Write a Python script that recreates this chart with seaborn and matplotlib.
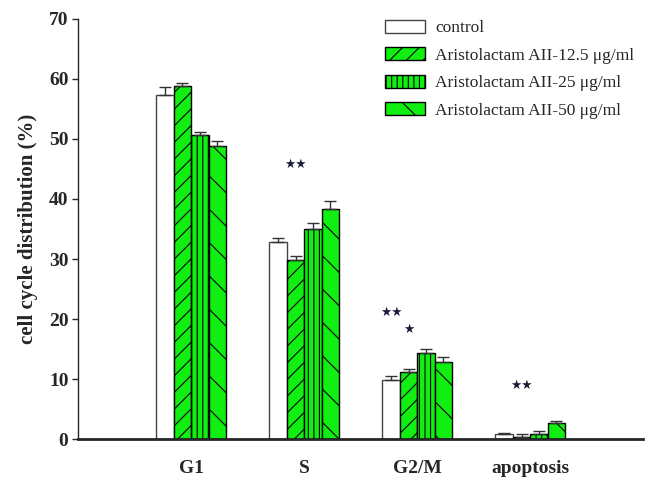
import numpy as np
import pandas as pd
import matplotlib
matplotlib.use("Agg")
import matplotlib.pyplot as plt
import seaborn as sns

# values
phases = ["G1", "S", "G2/M", "apoptosis"]
groups = ["control", "Aristolactam AII-12.5 \u03bcg/ml",
          "Aristolactam AII-25 \u03bcg/ml", "Aristolactam AII-50 \u03bcg/ml"]
control = [57.3, 32.8, 9.9, 0.9]
dose_12_5 = [58.9, 29.9, 11.2, 0.4]
dose_25 = [50.7, 35.05, 14.4, 0.9]
dose_50 = [48.8, 38.3, 12.9, 2.6]
err_control = [1.3, 0.65, 0.65, 0.1]
err_12_5 = [0.5, 0.6, 0.47, 0.4]
err_25 = [0.5, 0.9, 0.6, 0.4]
err_50 = [0.9, 1.4, 0.7, 0.4]

# significance marks: (phase, group index, label, height)
stars = [("S", 1, "**", 45.8), ("G2/M", 0, "**", 21.1),
         ("G2/M", 1, "*", 18.3), ("apoptosis", 1, "**", 8.9)]

means = [control, dose_12_5, dose_25, dose_50]
errors = [err_control, err_12_5, err_25, err_50]

df = pd.DataFrame({
    "phase": np.repeat([phases], 4, axis=0).ravel(),
    "group": np.repeat(groups, len(phases)),
    "value": np.concatenate(means),
})

sns.set_style("ticks")
plt.rcParams["font.family"] = ["Liberation Serif", "DejaVu Sans"]
plt.rcParams["hatch.linewidth"] = 0.8

fig = plt.figure(figsize=(6.57, 4.93), dpi=100)
ax = fig.add_axes([0.119, 0.1095, 0.86, 0.852])

green = "#11ee11"
sns.barplot(data=df, x="phase", y="value", hue="group", order=phases,
            hue_order=groups, palette=["white", green, green, green],
            saturation=1, width=0.615, errorbar=None, ax=ax,
            edgecolor="black", linewidth=1)

hatches = [None, "//", "|||", "\\"]
for container, hatch, err in zip(ax.containers, hatches, errors):
    xs = []
    for bar in container:
        if hatch:
            bar.set_hatch(hatch)
        else:
            bar.set_edgecolor("#444444")
        xs.append(bar.get_x() + bar.get_width() / 2)
    vals = [b.get_height() for b in container]
    ax.errorbar(xs, vals, yerr=[np.zeros(len(err)), err], fmt="none",
                ecolor="#333333", elinewidth=1, capsize=4, capthick=1, zorder=1)

for phase, gi, label, h in stars:
    bar = ax.containers[gi][phases.index(phase)]
    ax.text(bar.get_x() + bar.get_width() / 2, h, label.replace("*", "\u2605"),
            ha="center", va="center", fontsize=9, color="#1a1a3a",
            family="DejaVu Sans")

ax.get_legend().remove()
ax.legend(ax.containers, groups, loc="upper left", bbox_to_anchor=(0.586, 0.96),
          bbox_transform=fig.transFigure, frameon=False, fontsize=12.5,
          handlelength=2.3, handleheight=0.8, handletextpad=0.6,
          labelspacing=0.62, borderpad=0, borderaxespad=0)

ax.set_xlim(-1, 4)
ax.set_ylim(0, 70)
ax.set_yticks(range(0, 71, 10))
ax.set_xlabel("")
ax.set_ylabel("cell cycle distribution (%)", fontsize=15, fontweight="bold",
              labelpad=8)
ax.tick_params(axis="x", length=0, pad=15, labelsize=14)
ax.tick_params(axis="y", length=4, width=1, pad=3, labelsize=14)
for lab in ax.get_xticklabels() + ax.get_yticklabels():
    lab.set_fontweight("bold")
sns.despine(ax=ax)
ax.spines["bottom"].set_linewidth(2)
ax.spines["left"].set_linewidth(1)

fig.savefig("out.png", dpi=100)
